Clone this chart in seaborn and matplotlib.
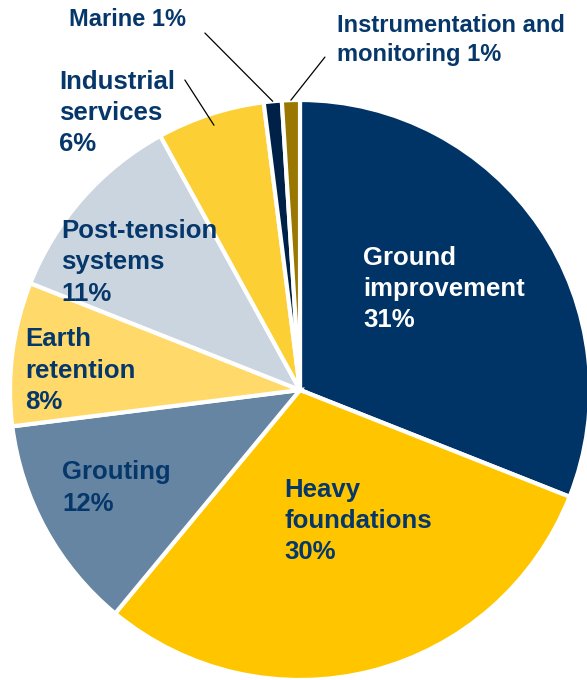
import matplotlib
matplotlib.use("Agg")
import matplotlib.pyplot as plt
import numpy as np
import seaborn as sns

# segment shares, clockwise from 12 o'clock
segments = ["Ground\nimprovement", "Heavy\nfoundations", "Grouting", "Earth\nretention",
            "Post-tension\nsystems", "Industrial\nservices", "Marine", "Instrumentation and\nmonitoring"]
shares = [31, 30, 12, 8, 11, 6, 1, 1]
colors = ["#003366", "#FFC600", "#6585A3", "#FFDA6B", "#CBD5E0", "#FCCF35", "#002147", "#997700"]
text_colors = ["white"] + ["#06376A"] * 7
# label anchor (left, vertical centre) in pie-radius units
label_x = [0.217, -0.055, -0.821, -0.948, -0.824, -0.831, -0.797, 0.128]
label_y = [0.348, -0.452, -0.338, 0.066, 0.441, 0.955, 1.276, 1.207]
# labels with a leader line: (index, line start x, line start y)
leaders = [(5, -0.397, 1.069), (6, -0.328, 1.231), (7, 0.086, 1.148)]

sns.set_theme(style="white")
plt.rcParams["font.family"] = ["Liberation Sans", "DejaVu Sans"]

fig = plt.figure(figsize=(5.87, 6.80), dpi=100)
ax = fig.add_axes([10 / 587, 0, 580 / 587, 580 / 680])

wedges, _ = ax.pie(shares, colors=colors, startangle=90, counterclock=False,
                   radius=1.0, wedgeprops=dict(edgecolor="white", linewidth=3))

for i, (name, pct) in enumerate(zip(segments, shares)):
    small = i >= 6
    txt = f"{name} {pct}%" if small else f"{name}\n{pct}%"
    ax.text(label_x[i], label_y[i], txt, ha="left", va="center",
            fontsize=17 if small else 18.5, fontweight="bold",
            color=text_colors[i], linespacing=1.3 if small else 1.39, clip_on=False)

for i, sx, sy in leaders:
    w = wedges[i]
    ang = np.deg2rad((w.theta1 + w.theta2) / 2)
    r = 0.96 if i == 5 else 1.0
    ax.plot([sx, r * np.cos(ang)], [sy, r * np.sin(ang)], color="black",
            linewidth=0.9, clip_on=False)

ax.set_xlim(-1, 1)
ax.set_ylim(-1, 1)
ax.set_aspect("equal")
ax.axis("off")

fig.savefig("out.png", dpi=100)
plt.close(fig)
